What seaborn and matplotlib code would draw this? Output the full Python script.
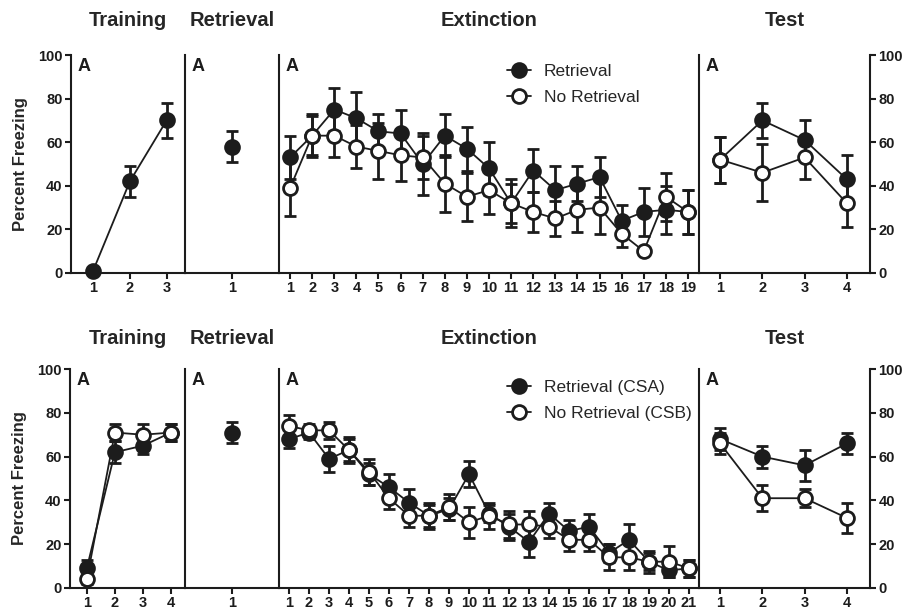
import matplotlib
matplotlib.use("Agg")
import matplotlib.pyplot as plt
import seaborn as sns

# Experiment 1 (top row)
train1_x = [1, 2, 3]
train1_ret = [1, 42, 70]
train1_ret_err = [0, 7, 8]
retr1_ret = [58]
retr1_ret_err = [7]
ext1_x = list(range(1, 20))
ext1_ret = [53, 63, 75, 71, 65, 64, 50, 63, 57, 48, 32, 47, 38, 41, 44, 24, 28, 29, 28]
ext1_ret_err = [10, 10, 10, 12, 8, 11, 14, 10, 10, 12, 11, 10, 11, 8, 9, 7, 11, 11, 10]
ext1_nr = [39, 63, 63, 58, 56, 54, 53, 41, 35, 38, 32, 28, 25, 29, 30, 18, 10, 35, 28]
ext1_nr_err = [13, 9, 10, 10, 13, 12, 10, 13, 11, 11, 9, 9, 8, 10, 12, 6, 0, 11, 10]
test_x = [1, 2, 3, 4]
test1_ret = [52, 70, 61, 43]
test1_ret_err = [10.5, 8, 9, 11]
test1_nr = [52, 46, 53, 32]
test1_nr_err = [10.5, 13, 10, 11]

# Experiment 2 (bottom row)
train2_x = [1, 2, 3, 4]
train2_ret = [9, 62, 65, 71]
train2_ret_err = [4, 5, 4, 4]
train2_nr = [4, 71, 70, 71]
train2_nr_err = [2, 4, 5, 4]
retr2_ret = [71]
retr2_ret_err = [5]
ext2_x = list(range(1, 22))
ext2_ret = [68, 71, 59, 63, 52, 46, 39, 33, 36, 52, 34, 28, 21, 34, 26, 28, 16, 22, 12, 8, 9]
ext2_ret_err = [4, 3, 6, 5, 5, 6, 6, 5, 5, 6, 4, 6, 7, 5, 5, 6, 4, 7, 4, 3, 4]
ext2_nr = [74, 72, 72, 63, 53, 41, 33, 33, 37, 30, 33, 29, 29, 28, 22, 22, 14, 14, 12, 12, 9]
ext2_nr_err = [5, 3, 4, 6, 6, 5, 5, 6, 6, 7, 6, 6, 6, 5, 5, 5, 6, 6, 5, 7, 4]
test2_ret = [68, 60, 56, 66]
test2_ret_err = [5, 5, 7, 5]
test2_nr = [66, 41, 41, 32]
test2_nr_err = [5, 6, 4, 7]

# style
sns.set_style("ticks")
plt.rcParams["font.family"] = ["Liberation Sans", "DejaVu Sans"]
plt.rcParams["font.weight"] = "bold"
ink = "#1c1c1c"


def draw(ax, x, y, err, filled, label=None):
    #error bars first, then line + markers on top
    ax.errorbar(x, y, yerr=err, fmt="none", ecolor=ink, elinewidth=2,
                capsize=4.5, capthick=2, clip_on=False, zorder=2)
    sns.lineplot(x=x, y=y, ax=ax, color=ink, linewidth=1.3, marker="o",
                 markersize=10, markeredgewidth=2, markeredgecolor=ink,
                 markerfacecolor=ink if filled else "white",
                 label=label, clip_on=False, zorder=4 if filled else 5)


def setup(ax, xlim, xticks, title, pad, first=False, last=False):
    ax.set_xlim(*xlim)
    ax.set_ylim(0, 100)
    ax.set_xticks(xticks)
    ax.set_xlabel("")
    ax.set_title(title, fontsize=14.5, fontweight="bold", pad=pad)
    for s in ["top", "right"]:
        ax.spines[s].set_visible(False)
    for s in ["left", "bottom", "right"]:
        ax.spines[s].set_linewidth(1.5)
        ax.spines[s].set_color(ink)
    ax.tick_params(axis="x", direction="out", length=4, width=1.5, labelsize=10.5, colors=ink, pad=2)
    ax.tick_params(axis="y", direction="out", length=4, width=1.5, labelsize=10.5, colors=ink, pad=2)
    if first:
        ax.set_yticks(range(0, 101, 20))
        ax.set_ylabel("Percent Freezing", fontsize=12, fontweight="bold", labelpad=7)
    else:
        ax.set_yticks([])
        ax.set_ylabel("")
    if last:
        ax.spines["right"].set_visible(True)
        ax.yaxis.tick_right()
        ax.set_yticks(range(0, 101, 20))
        ax.tick_params(axis="y", which="both", left=False, right=True)
    ax.annotate("A", xy=(0, 1), xycoords="axes fraction", xytext=(5, -2),
                textcoords="offset points", ha="left", va="top",
                fontsize=13, fontweight="bold", color=ink)


def add_legend(ax, yanchor):
    ax.legend(loc="upper left", bbox_to_anchor=(0.505, yanchor), frameon=False,
              prop={"weight": "normal", "size": 12.5}, handlelength=1.4,
              handletextpad=0.75, labelspacing=0.6)


fig = plt.figure(figsize=(9.14, 6.10), dpi=100)
gs_top = fig.add_gridspec(1, 4, left=0.0777, right=0.9519, bottom=0.5525, top=0.9098,
                          width_ratios=[114, 94, 420, 171], wspace=0)
gs_bot = fig.add_gridspec(1, 4, left=0.0766, right=0.9519, bottom=0.0361, top=0.395,
                          width_ratios=[115, 94, 420, 171], wspace=0)

# top row
ax = fig.add_subplot(gs_top[0])
draw(ax, train1_x, train1_ret, train1_ret_err, True)
setup(ax, (0.4, 3.5), train1_x, "Training", 21, first=True)

ax = fig.add_subplot(gs_top[1])
draw(ax, [1], retr1_ret, retr1_ret_err, True)
setup(ax, (0, 2), [1], "Retrieval", 21)

ax = fig.add_subplot(gs_top[2])
draw(ax, ext1_x, ext1_ret, ext1_ret_err, True, label="Retrieval")
draw(ax, ext1_x, ext1_nr, ext1_nr_err, False, label="No Retrieval")
setup(ax, (0.5, 19.5), ext1_x, "Extinction", 21)
add_legend(ax, 1.03)

ax = fig.add_subplot(gs_top[3])
draw(ax, test_x, test1_ret, test1_ret_err, True)
draw(ax, test_x, test1_nr, test1_nr_err, False)
setup(ax, (0.5, 4.55), test_x, "Test", 21, last=True)

# bottom row
ax = fig.add_subplot(gs_bot[0])
draw(ax, train2_x, train2_ret, train2_ret_err, True)
draw(ax, train2_x, train2_nr, train2_nr_err, False)
setup(ax, (0.4, 4.5), train2_x, "Training", 18, first=True)

ax = fig.add_subplot(gs_bot[1])
draw(ax, [1], retr2_ret, retr2_ret_err, True)
setup(ax, (0, 2), [1], "Retrieval", 18)

ax = fig.add_subplot(gs_bot[2])
draw(ax, ext2_x, ext2_ret, ext2_ret_err, True, label="Retrieval (CSA)")
draw(ax, ext2_x, ext2_nr, ext2_nr_err, False, label="No Retrieval (CSB)")
setup(ax, (0.5, 21.5), ext2_x, "Extinction", 18)
add_legend(ax, 1.02)

ax = fig.add_subplot(gs_bot[3])
draw(ax, test_x, test2_ret, test2_ret_err, True)
draw(ax, test_x, test2_nr, test2_nr_err, False)
setup(ax, (0.5, 4.55), test_x, "Test", 18, last=True)

fig.savefig("out.png", dpi=100)
